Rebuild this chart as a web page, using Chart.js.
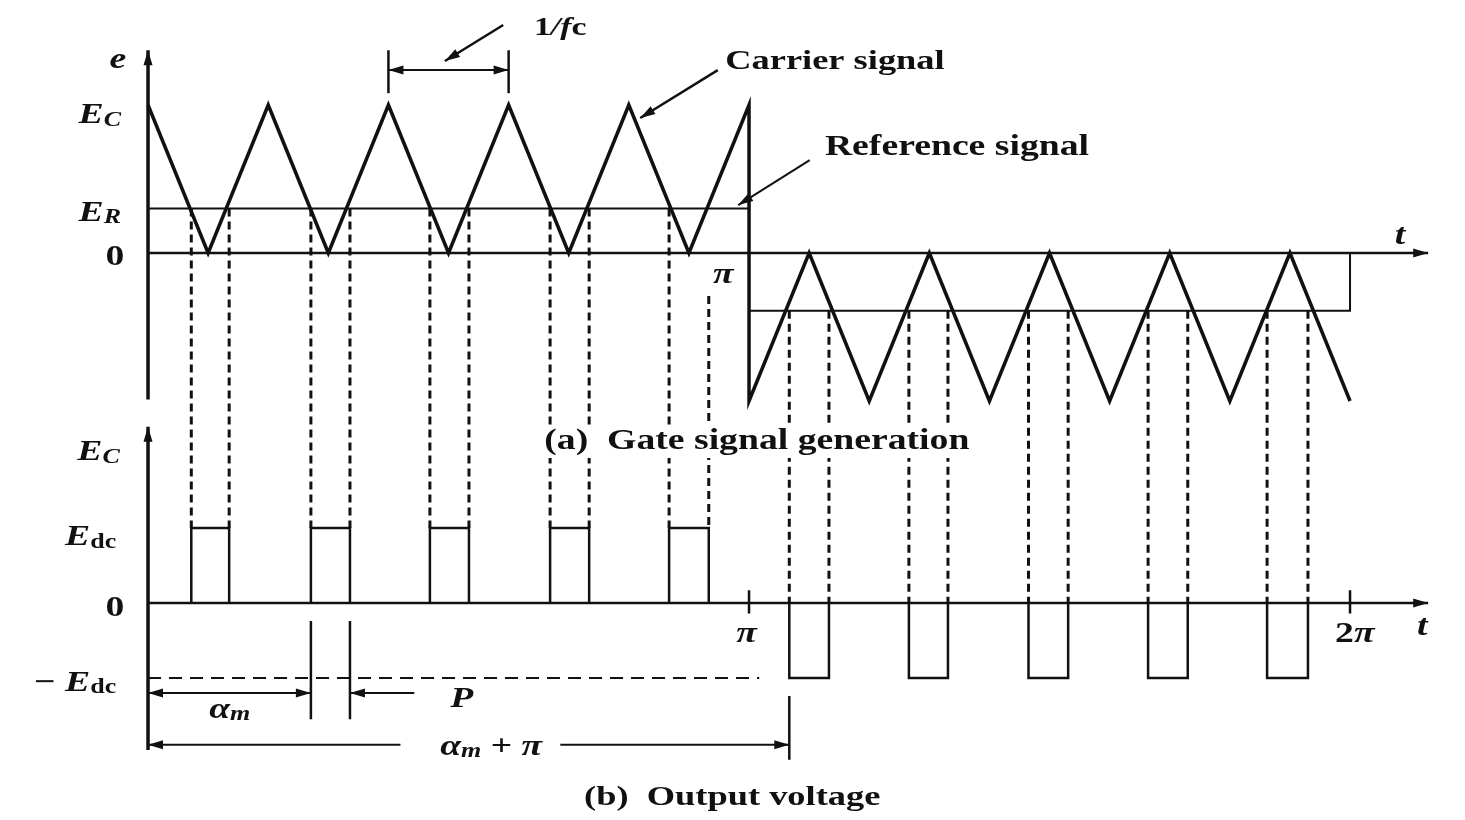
<!DOCTYPE html>
<html>
<head>
  <meta charset="UTF-8" />
  <title>PWM gate signal generation</title>
  <style>
    body { margin: 0; background: #fff; }
    #wrap { width: 1465px; height: 820px; }
  </style>
</head>
<body>
  <div id="wrap"><canvas id="pwmChart"></canvas></div>
  <script src="https://cdn.jsdelivr.net/npm/chart.js"></script>
  <script>
    // x in units of pi, upper plot y in units of Ec, lower plot y in units of Edc
    const carrierX = [0, 0.1, 0.2, 0.3, 0.4, 0.5, 0.6, 0.7, 0.8, 0.9, 1.0, 1.0, 1.1, 1.2, 1.3, 1.4, 1.5, 1.6, 1.7, 1.8, 1.9, 2.0];
    const carrierY = [1, 0, 1, 0, 1, 0, 1, 0, 1, 0, 1, -1, 0, -1, 0, -1, 0, -1, 0, -1, 0, -1];
    const referenceX = [0, 1.0, 1.0, 2.0, 2.0];
    const referenceY = [0.30, 0.30, -0.39, -0.39, 0];
    const pulseStart = [0.072, 0.271, 0.469, 0.669, 0.867, 1.067, 1.266, 1.465, 1.664, 1.862];
    const pulseEnd   = [0.135, 0.336, 0.534, 0.734, 0.933, 1.133, 1.331, 1.531, 1.730, 1.930];
    const pulseLevel = [1, 1, 1, 1, 1, -1, -1, -1, -1, -1];
    const tickX = [1, 2];
    const tickLabels = ['π', '2π'];

    const SERIF = '"Liberation Serif", "Times New Roman", serif';
    const mathF = 'bold italic 29px ' + SERIF;
    const subF = 'bold italic 20px ' + SERIF;
    const subUp = 'bold 20px ' + SERIF;
    const upF = 'bold 29px ' + SERIF;
    const capF = 'bold 29px ' + SERIF;
    const capS = 'bold 28px ' + SERIF;

    const toPoints = (xs, ys) => xs.map((x, i) => ({ x: x, y: ys[i] }));

    const outputPoints = [];
    pulseStart.forEach((s, i) => {
      const e = pulseEnd[i], l = pulseLevel[i];
      outputPoints.push({ x: s, y: 0 }, { x: s, y: l }, { x: e, y: l }, { x: e, y: 0 }, { x: NaN, y: NaN });
    });

    // straight segments and arrows, placed through the scales
    const segs = [];
    const seg = (x1, y1, a1, x2, y2, a2, st) => segs.push({ x1, y1, a1, x2, y2, a2, st: st || {} });

    // axes
    seg(0, -0.99, 'yTop', 0, 1.37, 'yTop', { w: 3.5, head: 'end' });
    seg(0, 0, 'yTop', 2.13, 0, 'yTop', { w: 2.5, head: 'end' });
    seg(0, -1.96, 'yBot', 0, 2.35, 'yBot', { w: 3.5, head: 'end' });
    seg(0, 0, 'yBot', 2.13, 0, 'yBot', { w: 2.5, head: 'end' });
    tickX.forEach(t => seg(t, -0.14, 'yBot', t, 0.17, 'yBot', { w: 2.5 }));

    // dashed connectors from the crossings down to the output pulses
    pulseStart.forEach((s, i) => {
      const up = pulseLevel[i] > 0;
      const topY = up ? referenceY[0] : referenceY[2];
      const botY = up ? 1 : 0;
      seg(s, topY, 'yTop', s, botY, 'yBot', { w: 3, dash: [8, 5] });
      const eTop = (up && i === 4) ? -0.29 : topY;
      seg(pulseEnd[i], eTop, 'yTop', pulseEnd[i], botY, 'yBot', { w: 3, dash: [8, 5] });
    });

    // 1/fc dimension
    seg(0.4, 1.08, 'yTop', 0.4, 1.37, 'yTop', { w: 2.5 });
    seg(0.6, 1.08, 'yTop', 0.6, 1.37, 'yTop', { w: 2.5 });
    seg(0.4, 1.236, 'yTop', 0.6, 1.236, 'yTop', { w: 2, head: 'both' });
    seg(0.591, 1.541, 'yTop', 0.494, 1.297, 'yTop', { w: 2.5, head: 'end' });
    // leader arrows
    seg(0.948, 1.236, 'yTop', 0.819, 0.912, 'yTop', { w: 2.5, head: 'end' });
    seg(1.101, 0.628, 'yTop', 0.982, 0.324, 'yTop', { w: 2, head: 'end' });

    // lower plot dimensions
    seg(0, -1, 'yBot', 1.017, -1, 'yBot', { w: 2, dash: [13, 8] });
    seg(0, -1.2, 'yBot', pulseStart[1], -1.2, 'yBot', { w: 2, head: 'both' });
    seg(pulseStart[1], -0.24, 'yBot', pulseStart[1], -1.55, 'yBot', { w: 2.5 });
    seg(pulseEnd[1], -0.24, 'yBot', pulseEnd[1], -1.55, 'yBot', { w: 2.5 });
    seg(0.443, -1.2, 'yBot', pulseEnd[1], -1.2, 'yBot', { w: 2, head: 'end' });
    seg(0.42, -1.89, 'yBot', 0, -1.89, 'yBot', { w: 2, head: 'end' });
    seg(0.686, -1.89, 'yBot', pulseStart[5], -1.89, 'yBot', { w: 2, head: 'end' });
    seg(pulseStart[5], -1.24, 'yBot', pulseStart[5], -2.09, 'yBot', { w: 2.5 });

    const labels = [
      { x: -0.05, y: 1.30, a: 'yTop', al: 'center', runs: [{ t: 'e', f: mathF }] },
      { x: -0.045, y: 0.93, a: 'yTop', al: 'right', runs: [{ t: 'E', f: mathF }, { t: 'C', f: subF, dy: 5 }] },
      { x: -0.045, y: 0.27, a: 'yTop', al: 'right', runs: [{ t: 'E', f: mathF }, { t: 'R', f: subF, dy: 5 }] },
      { x: -0.055, y: -0.03, a: 'yTop', al: 'center', runs: [{ t: '0', f: upF }] },
      { x: 2.083, y: 0.11, a: 'yTop', al: 'center', runs: [{ t: 't', f: mathF }] },
      { x: 0.957, y: -0.15, a: 'yTop', al: 'center', runs: [{ t: 'π', f: mathF }] },
      { x: 0.686, y: 1.52, a: 'yTop', al: 'center', runs: [{ t: '1', f: 'bold 26px ' + SERIF }, { t: '/f', f: 'bold italic 26px ' + SERIF }, { t: 'c', f: 'bold 26px ' + SERIF }] },
      { x: 1.143, y: 1.29, a: 'yTop', al: 'center', runs: [{ t: 'Carrier signal', f: capS }] },
      { x: 1.346, y: 0.716, a: 'yTop', al: 'center', runs: [{ t: 'Reference signal', f: capF }] },
      { x: 1.013, y: -1.277, a: 'yTop', al: 'center', bg: true, runs: [{ t: '(a)  Gate signal generation', f: capF }] },
      { x: -0.047, y: 2.0, a: 'yBot', al: 'right', runs: [{ t: 'E', f: mathF }, { t: 'C', f: subF, dy: 5 }] },
      { x: -0.053, y: 0.87, a: 'yBot', al: 'right', runs: [{ t: 'E', f: mathF }, { t: 'dc', f: subUp, dy: 5 }] },
      { x: -0.055, y: -0.07, a: 'yBot', al: 'center', runs: [{ t: '0', f: upF }] },
      { x: -0.053, y: -1.07, a: 'yBot', al: 'right', runs: [{ t: '− ', f: upF }, { t: 'E', f: mathF }, { t: 'dc', f: subUp, dy: 5 }] },
      { x: 0.136, y: -1.43, a: 'yBot', al: 'center', runs: [{ t: 'α', f: mathF }, { t: 'm', f: subF, dy: 5 }] },
      { x: 0.522, y: -1.28, a: 'yBot', al: 'center', runs: [{ t: 'P', f: mathF }] },
      { x: 0.571, y: -1.92, a: 'yBot', al: 'center', runs: [{ t: 'α', f: mathF }, { t: 'm', f: subF, dy: 5 }, { t: ' + ', f: upF }, { t: 'π', f: mathF }] },
      { x: 2.12, y: -0.32, a: 'yBot', al: 'center', runs: [{ t: 't', f: mathF }] },
      { x: 0.972, y: -2.6, a: 'yBot', al: 'center', runs: [{ t: '(b)  Output voltage', f: capS }] }
    ];
    tickX.forEach((t, i) => {
      const runs = tickLabels[i] === 'π' ? [{ t: 'π', f: mathF }] : [{ t: '2', f: upF }, { t: 'π', f: mathF }];
      labels.push({ x: t - 0.004 + i * 0.012, y: -0.42, a: 'yBot', al: 'center', runs: runs });
    });

    const STRETCH = 1.3;

    function arrowHead(ctx, x1, y1, x2, y2) {
      const ang = Math.atan2(y2 - y1, x2 - x1), len = 15, hw = 4.5;
      ctx.beginPath();
      ctx.moveTo(x2, y2);
      ctx.lineTo(x2 - len * Math.cos(ang) + hw * Math.sin(ang), y2 - len * Math.sin(ang) - hw * Math.cos(ang));
      ctx.lineTo(x2 - len * Math.cos(ang) - hw * Math.sin(ang), y2 - len * Math.sin(ang) + hw * Math.cos(ang));
      ctx.closePath();
      ctx.fill();
    }

    const diagramPlugin = {
      id: 'diagram',
      afterDatasetsDraw(chart) {
        const ctx = chart.ctx, sx = chart.scales.x;
        ctx.save();
        ctx.strokeStyle = '#111';
        ctx.fillStyle = '#111';
        segs.forEach(s => {
          const x1 = sx.getPixelForValue(s.x1), y1 = chart.scales[s.a1].getPixelForValue(s.y1);
          const x2 = sx.getPixelForValue(s.x2), y2 = chart.scales[s.a2].getPixelForValue(s.y2);
          ctx.lineWidth = s.st.w || 2;
          ctx.setLineDash(s.st.dash || []);
          ctx.beginPath();
          ctx.moveTo(x1, y1);
          ctx.lineTo(x2, y2);
          ctx.stroke();
          ctx.setLineDash([]);
          if (s.st.head === 'end' || s.st.head === 'both') arrowHead(ctx, x1, y1, x2, y2);
          if (s.st.head === 'both') arrowHead(ctx, x2, y2, x1, y1);
        });

        ctx.textBaseline = 'middle';
        labels.forEach(l => {
          let w = 0;
          l.runs.forEach(r => { ctx.font = r.f; r.w = ctx.measureText(r.t).width; w += r.w; });
          const px = sx.getPixelForValue(l.x), py = chart.scales[l.a].getPixelForValue(l.y);
          ctx.save();
          ctx.translate(px, py);
          ctx.scale(STRETCH, 1);
          let cx = l.al === 'right' ? -w : l.al === 'center' ? -w / 2 : 0;
          if (l.bg) {
            ctx.fillStyle = '#fff';
            ctx.fillRect(cx - 4, -16, w + 8, 32);
            ctx.fillStyle = '#111';
          }
          l.runs.forEach(r => {
            ctx.font = r.f;
            ctx.fillText(r.t, cx, r.dy || 0);
            cx += r.w;
          });
          ctx.restore();
        });
        ctx.restore();
      }
    };

    const lineStyle = { showLine: true, pointRadius: 0, borderColor: '#111', fill: false, tension: 0, borderJoinStyle: 'miter' };

    new Chart(document.getElementById('pwmChart'), {
      type: 'scatter',
      data: {
        datasets: [
          Object.assign({ label: 'Carrier signal', data: toPoints(carrierX, carrierY), yAxisID: 'yTop', borderWidth: 3.5 }, lineStyle),
          Object.assign({ label: 'Reference signal', data: toPoints(referenceX, referenceY), yAxisID: 'yTop', borderWidth: 2 }, lineStyle),
          Object.assign({ label: 'Output voltage', data: outputPoints, yAxisID: 'yBot', borderWidth: 2.5, spanGaps: false }, lineStyle)
        ]
      },
      options: {
        responsive: true,
        maintainAspectRatio: false,
        animation: false,
        events: [],
        layout: { padding: 0 },
        plugins: { legend: { display: false }, tooltip: { enabled: false } },
        scales: {
          x: { type: 'linear', display: false, min: -0.2463, max: 2.1913 },
          yTop: { type: 'linear', axis: 'y', display: false, min: -3.831, max: 1.7095 },
          yBot: { type: 'linear', axis: 'y', display: false, min: -2.893, max: 8.04 }
        }
      },
      plugins: [diagramPlugin]
    });
  </script>
</body>
</html>
